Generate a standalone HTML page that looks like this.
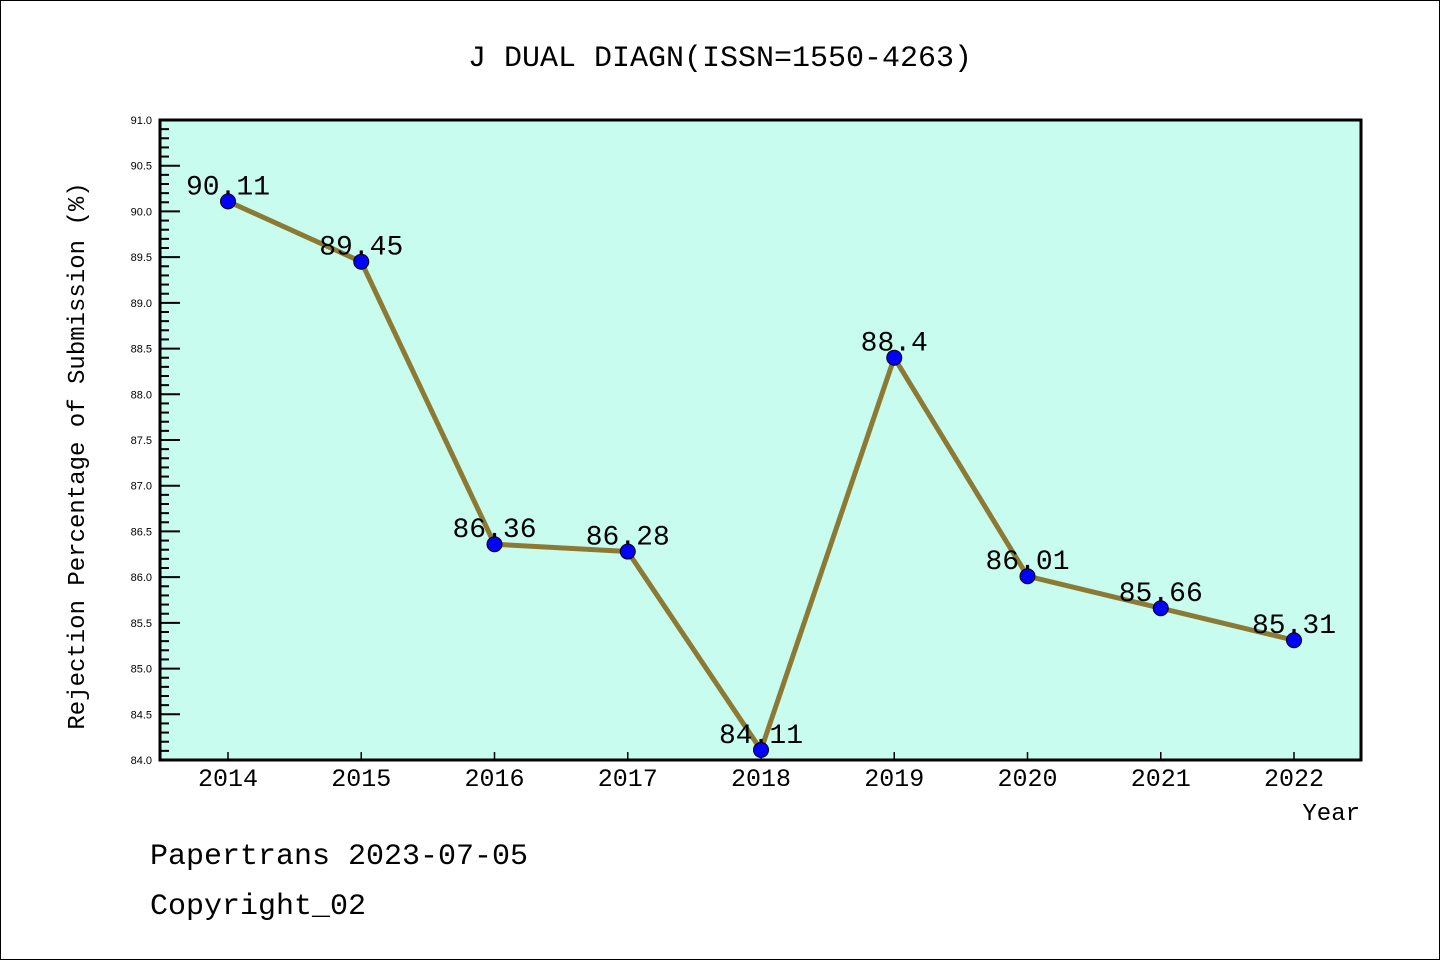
<!DOCTYPE html>
<html><head><meta charset="utf-8"><style>
html,body{margin:0;padding:0;background:#fff}
svg{display:block}
text{font-family:"Liberation Sans","DejaVu Sans",sans-serif}
.mono{font-family:"Liberation Mono","DejaVu Sans Mono",monospace}
</style></head><body>
<svg id="c" width="1440" height="960">
<rect x="0.5" y="0.5" width="1439" height="959" fill="#fff" stroke="#000"/>
<text class="mono" x="720" y="66" font-size="30" text-anchor="middle">J DUAL DIAGN(ISSN=1550-4263)</text>
<rect x="160" y="120" width="1201" height="640" fill="#c8fcee"/>
<g id="ticks"></g>
<g id="series"></g>
<rect x="160" y="120" width="1201" height="640" fill="none" stroke="#000" stroke-width="3"/>
<text class="mono" transform="translate(84,456) rotate(-90)" font-size="24" text-anchor="middle">Rejection Percentage of Submission (%)</text>
<text class="mono" x="1360" y="820" font-size="24" text-anchor="end">Year</text>
<text class="mono" x="150" y="864" font-size="30">Papertrans 2023-07-05</text>
<text class="mono" x="150" y="914" font-size="30">Copyright_02</text>
</svg>
<script>
const years=["2014","2015","2016","2017","2018","2019","2020","2021","2022"];
const values=[90.11,89.45,86.36,86.28,84.11,88.4,86.01,85.66,85.31];
const valueLabels=["90.11","89.45","86.36","86.28","84.11","88.4","86.01","85.66","85.31"];
const yMin=84,yMax=91;
const NS="http://www.w3.org/2000/svg";
function xs(i){return 228+i*(1294-228)/(years.length-1);}
function ys(v){return 760-(v-yMin)/(yMax-yMin)*640;}
function mk(t,a,p){const e=document.createElementNS(NS,t);for(const k in a)e.setAttribute(k,a[k]);p.appendChild(e);return e;}
const tg=document.getElementById('ticks'),sg=document.getElementById('series');
for(let k=0;k<=70;k++){const v=yMin+k*0.1;const y=ys(v);const major=k%5===0;
 const l=mk('line',{x1:160,x2:160+(major?20:9),y1:y,y2:y,stroke:'#000','stroke-width':2},tg);
 
 
 if(major){const t=mk('text',{x:152,y:y+4,'font-size':11,'text-anchor':'end'},tg);t.textContent=v.toFixed(1);
 
 }}
years.forEach((yr,i)=>{const x=xs(i);
 const l=mk('line',{x1:x,x2:x,y1:760,y2:752,stroke:'#000','stroke-width':1.5},tg);
 
 
 const t=mk('text',{x:x,y:786,'font-size':25,'text-anchor':'middle','class':'mono'},tg);t.textContent=yr;
 
 });
const pl=mk('polyline',{points:values.map((v,i)=>xs(i)+','+ys(v)).join(' '),fill:'none',stroke:'#8c7a34','stroke-width':5,'stroke-linejoin':'round'},sg);


values.forEach((v,i)=>{const c=mk('circle',{cx:xs(i),cy:ys(v),r:7.5,fill:'#0000ff',stroke:'#000','stroke-width':1},sg);
 
 
 const t=mk('text',{x:xs(i),y:ys(v)-7,'font-size':28,'text-anchor':'middle','class':'mono'},sg);t.textContent=valueLabels[i];
 
 });
</script>
</body></html>
